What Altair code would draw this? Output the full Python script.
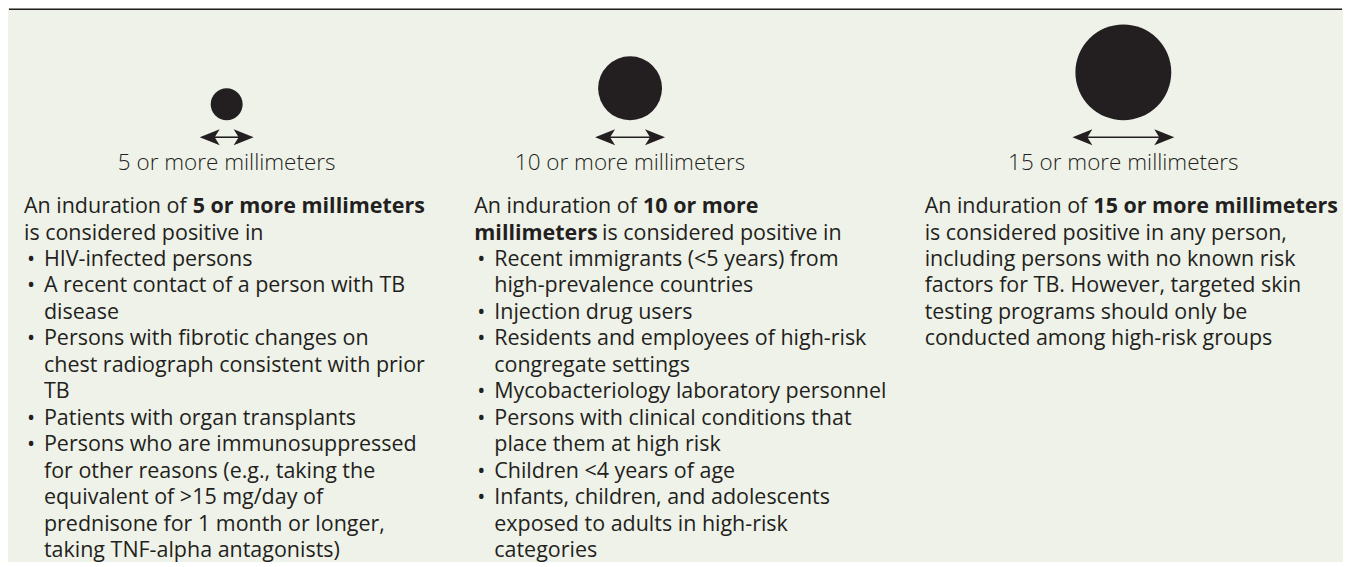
import altair as alt
import pandas as pd

# ---------------- data ----------------
thresholds_mm = [5, 10, 15]
size_labels = ["5 or more millimeters", "10 or more millimeters", "15 or more millimeters"]

body_col1 = [
    "An induration of **5 or more millimeters**",
    "is considered positive in",
    "• HIV-infected persons",
    "• A recent contact of a person with TB",
    "  disease",
    "• Persons with fibrotic changes on",
    "  chest radiograph consistent with prior",
    "  TB",
    "• Patients with organ transplants",
    "• Persons who are immunosuppressed",
    "  for other reasons (e.g., taking the",
    "  equivalent of >15 mg/day of",
    "  prednisone for 1 month or longer,",
    "  taking TNF-alpha antagonists)",
]
body_col2 = [
    "An induration of **10 or more**",
    "**millimeters** is considered positive in",
    "• Recent immigrants (<5 years) from",
    "  high-prevalence countries",
    "• Injection drug users",
    "• Residents and employees of high-risk",
    "  congregate settings",
    "• Mycobacteriology laboratory personnel",
    "• Persons with clinical conditions that",
    "  place them at high risk",
    "• Children <4 years of age",
    "• Infants, children, and adolescents",
    "  exposed to adults in high-risk",
    "  categories",
]
body_col3 = [
    "An induration of **15 or more millimeters**",
    "is considered positive in any person,",
    "including persons with no known risk",
    "factors for TB. However, targeted skin",
    "testing programs should only be",
    "conducted among high-risk groups",
]
bodies = [body_col1, body_col2, body_col3]

# ---------------- layout (pixels, chart coordinates) ----------------
W, H = 1335, 551
INK = "#231f20"
BG = "#eff2e9"
FONT = "Open Sans"
FS = 21.5
FS_LABEL = 22.5
col_left = [15, 466, 917]
col_center = [218, 622, 1116]
circle_base = 112
px_per_mm = 6.4
arrow_y = 129
label_y = 155
body_top = 199
line_h = 26.5
bullet_dx = 3
text_dx = 20
seg_w = {"An induration of ": 169, "millimeters": 128}
head_len = 20

# ---------------- tables ----------------
circles = pd.DataFrame({
    "mm": thresholds_mm,
    "x": col_center,
    "y": [circle_base - m * px_per_mm / 2 for m in thresholds_mm],
})

arrow_rows, head_rows = [], []
for m, c in zip(thresholds_mm, col_center):
    half = max(m * px_per_mm / 2 + 3, 27)
    arrow_rows.append({"x": c - half + head_len * 0.7, "x2": c + half - head_len * 0.7, "y": arrow_y})
    head_rows.append({"x": c - half, "y": arrow_y, "side": "left"})
    head_rows.append({"x": c + half, "y": arrow_y, "side": "right"})
arrows = pd.DataFrame(arrow_rows)
heads = pd.DataFrame(head_rows)

labels = pd.DataFrame({"x": col_center, "y": [label_y] * 3, "text": size_labels})

rows = []
for ci, lines in enumerate(bodies):
    for li, raw in enumerate(lines):
        y = body_top + li * line_h
        x0 = col_left[ci]
        if raw.startswith("• "):
            rows.append({"text": "•", "x": x0 + bullet_dx, "y": y, "bold": False})
            raw = raw[2:]
            x0 += text_dx
        elif raw.startswith("  "):
            raw = raw[2:]
            x0 += text_dx
        x = x0
        for pi, part in enumerate(raw.split("**")):
            if part.strip():
                rows.append({"text": part.strip(), "x": x, "y": y, "bold": pi % 2 == 1})
            x += seg_w.get(part, 0)
body = pd.DataFrame(rows)

# ---------------- chart ----------------
xs = alt.Scale(domain=[0, W], range=[0, W])
ys = alt.Scale(domain=[0, H], range=[0, H])
X = lambda f="x": alt.X(f"{f}:Q", scale=xs, axis=None)
Y = lambda f="y": alt.Y(f"{f}:Q", scale=ys, axis=None)

top_rule = alt.Chart(pd.DataFrame({"a": [0]})).mark_rule(color=INK, strokeWidth=1.6).encode(
    x=alt.value(0), x2=alt.value(W), y=alt.value(0.8)
)

circle_layer = alt.Chart(circles).mark_circle(color=INK, opacity=1).encode(
    x=X(), y=Y(),
    size=alt.Size("mm:Q", scale=alt.Scale(type="pow", exponent=2, domain=[0, 15],
                                          range=[0, (15 * px_per_mm) ** 2]), legend=None),
)

line_layer = alt.Chart(arrows).mark_rule(color=INK, strokeWidth=1.6).encode(
    x=X(), x2="x2:Q", y=Y()
)

path_left = "M0,0L1,-0.4L0.75,0L1,0.4Z"
path_right = "M0,0L-1,-0.4L-0.75,0L-1,0.4Z"
head_layer = alt.Chart(heads).mark_point(filled=True, color=INK, opacity=1, size=(2 * head_len) ** 2,
                                         strokeWidth=0).encode(
    x=X(), y=Y(),
    shape=alt.Shape("side:N", scale=alt.Scale(domain=["left", "right"], range=[path_left, path_right]),
                    legend=None),
)

label_layer = alt.Chart(labels).mark_text(
    font=FONT, fontSize=FS_LABEL, fontWeight=300, color=INK, align="center", baseline="middle"
).encode(x=X(), y=Y(), text="text:N")

body_norm = alt.Chart(body).transform_filter("!datum.bold").mark_text(
    font=FONT, fontSize=FS, fontWeight="normal", color=INK, align="left", baseline="middle"
).encode(x=X(), y=Y(), text="text:N")

body_bold = alt.Chart(body).transform_filter("datum.bold").mark_text(
    font=FONT, fontSize=FS, fontWeight="bold", color=INK, align="left", baseline="middle"
).encode(x=X(), y=Y(), text="text:N")

chart = alt.layer(
    top_rule, circle_layer, line_layer, head_layer, label_layer, body_norm, body_bold
).properties(width=W, height=H, padding=0, background=BG).configure_view(
    fill=BG, strokeWidth=0
)

chart.save("out.html", embed_options={"renderer": "svg", "actions": False})
